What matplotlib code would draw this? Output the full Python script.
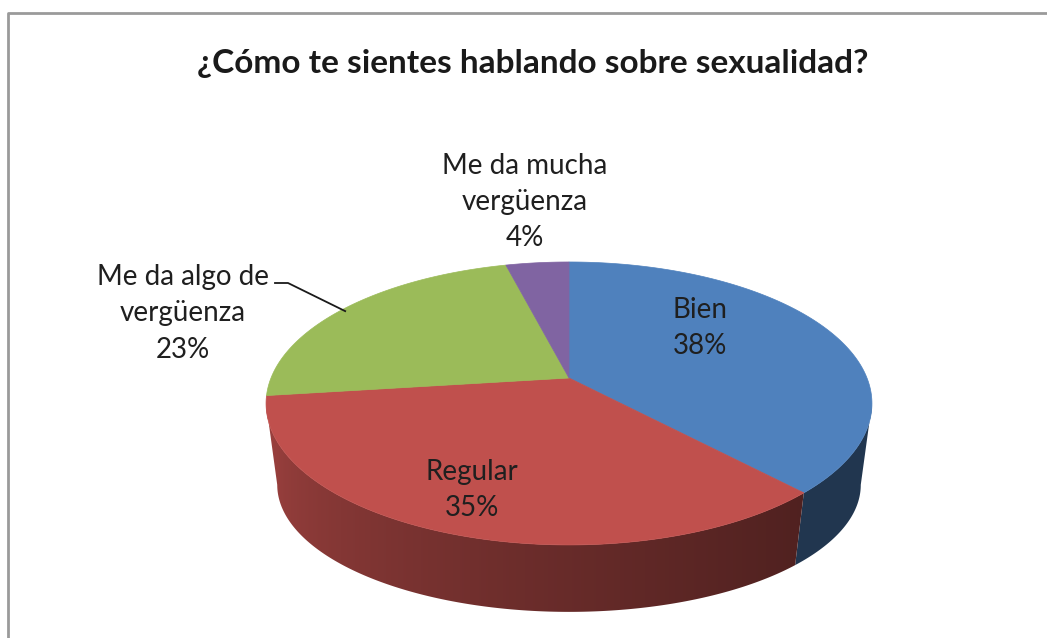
import numpy as np
import matplotlib.pyplot as plt
from matplotlib.patches import Polygon
from matplotlib.colors import to_rgb

title = '¿Cómo te sientes hablando sobre sexualidad?'
labels = ['Bien', 'Regular', 'Me da algo de\nvergüenza', 'Me da mucha\nvergüenza']
values = [38, 35, 23, 4]
colors = ['#4F81BD', '#C0504D', '#9BBB59', '#8064A2']

W, H = 1047, 638
plt.rcParams['font.family'] = ['Lato', 'DejaVu Sans']

fig = plt.figure(figsize=(W / 100, H / 100), dpi=100)
ax = fig.add_axes([0, 0, 1, 1])

# simple perspective for the tilted disc (pixel space)
cx = 569
p = 0.18
top = dict(cy=378, rx=298, ry=136.9)
bot = dict(cy=462, rx=287, ry=122.9)


def rim(th, d):
    w = 1 + p * np.cos(th)
    return cx + d['rx'] * np.sin(th) / w, d['cy'] - d['ry'] * np.cos(th) / w


def shade_factor(deg):
    return 0.42 + 0.42 * np.clip((deg - 137) / 123, 0, 1) ** 1.2


fr = np.array(values) / sum(values)
edges = np.concatenate([[0], np.cumsum(fr)]) * 2 * np.pi

# visible part of the side wall
vis0 = np.arccos(-p)
vis1 = 2 * np.pi - vis0

for i, col in enumerate(colors):
    a0, a1 = max(edges[i], vis0), min(edges[i + 1], vis1)
    if a1 <= a0:
        continue
    ts = np.linspace(a0, a1, 200)
    xt, yt = rim(ts, top)
    xb, yb = rim(ts[::-1], bot)
    poly = Polygon(list(zip(xt, yt)) + list(zip(xb, yb)), closed=True,
                   facecolor='none', edgecolor='none')
    ax.add_patch(poly)
    xmin, xmax = min(xt.min(), xb.min()) - 2, max(xt.max(), xb.max()) + 2
    ymin, ymax = min(yt.min(), yb.min()) - 2, max(yt.max(), yb.max()) + 2
    xs = np.linspace(xmin, xmax, 400)
    thx = np.interp(xs, xt[::-1], ts[::-1])
    f = shade_factor(np.degrees(thx))
    row = np.array(to_rgb(col))[None, :] * f[:, None]
    img = np.repeat(row[None, :, :], 2, axis=0)
    im = ax.imshow(img, extent=(xmin, xmax, ymax, ymin), aspect='auto',
                   interpolation='bilinear', zorder=0.5)
    im.set_clip_path(poly)

# top face
for i, col in enumerate(colors):
    ts = np.linspace(edges[i], edges[i + 1], 200)
    xs, ys = rim(ts, top)
    pts = [(cx, top['cy'])] + list(zip(xs, ys))
    ax.add_patch(Polygon(pts, closed=True, facecolor=col, edgecolor=col,
                         lw=0.5, zorder=1))

# labels
txt = '#1f1f1f'
lab_pos = [(700, 328), (472, 490), (183, 313), (525, 202)]
for i, (lab, v) in enumerate(zip(labels, values)):
    x, y = lab_pos[i]
    ax.text(x, y, f'{lab}\n{v}%', ha='center', va='center', fontsize=20,
            color=txt, linespacing=1.5)

# leader line for the green slice
mid = (edges[2] + edges[3]) / 2
ex, ey = rim(mid, top)
ax.plot([275, 288, ex], [283, 283, ey + 3], color='#1a1a1a', lw=1.3)

ax.text(533, 63, title, ha='center', va='center', fontsize=24,
        fontweight='bold', color='#1a1a1a')

# chart frame
ax.plot([7.5, 7.5, W + 5], [H + 5, 13, 13], color='#9a9a9a', lw=2)

ax.set_xlim(0, W)
ax.set_ylim(H, 0)
ax.axis('off')

fig.savefig('out.png', dpi=100)
